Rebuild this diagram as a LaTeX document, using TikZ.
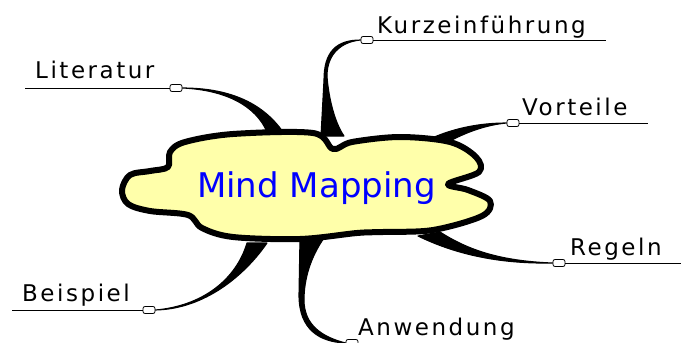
\documentclass[tikz,border=0pt]{standalone}
\usepackage{fontspec}
\usepackage{tikz}
\newfontfamily\topicfont[LetterSpace=11]{DejaVu Sans}
\newfontfamily\titlefont{DejaVu Sans}
\definecolor{cloudfill}{RGB}{255,255,170}
\tikzset{
  cloudline/.style={line width=6pt,fill=cloudfill,line join=round},
  branch/.style={fill=black,draw=black,line width=1.1pt,line join=round},
  knob/.style={draw,fill=white,rounded corners=2pt,minimum width=12pt,minimum height=7pt,inner sep=0pt,line width=0.8pt},
  stem/.style={line width=0.8pt},
  topic/.style={font=\topicfont\fontsize{23}{25}\selectfont,inner sep=0pt,anchor=base west},
}

\begin{document}
\begin{tikzpicture}[x=1pt,y=-1pt]
        \useasboundingbox (0,0) rectangle (681,343);
        % knobs at the ends of the branches
        \node[knob] (lit) at (176,88) {};
        \node[knob] (kurz) at (367,40) {};
        \node[knob] (vort) at (513,123) {};
        \node[knob] (regl) at (559,263) {};
        \node[knob] (anw) at (352,343) {};
        \node[knob] (beisp) at (149,310) {};
        \coordinate (lit-end) at (25,88);
        \coordinate (kurz-end) at (606,40);
        \coordinate (vort-end) at (648,123);
        \coordinate (regl-end) at (681,263);
        \coordinate (anw-end) at (681,343);
        \coordinate (beisp-end) at (12,310);
        % branches
        \draw[branch] (lit.east) .. controls (228,88) and (262,102) .. (283,132)
          -- (267,132) .. controls (256,106) and (226,90) .. (lit.east) -- cycle;
        \draw[branch] (kurz.west) .. controls (336,40) and (324,52) .. (324,80) -- (321,136)
          -- (344,136) .. controls (333,120) and (328,92) .. (327,76)
          .. controls (327,55) and (340,42) .. (kurz.west) -- cycle;
        \draw[branch] (vort.west) .. controls (480,123) and (455,128) .. (432,138)
          -- (450,141) .. controls (465,133) and (485,125) .. (vort.west) -- cycle;
        \draw[branch] (440,232) .. controls (468,250) and (500,261) .. (regl.west)
          .. controls (498,264) and (455,254) .. (418,236) -- cycle;
        \draw[branch] (300,238) -- (299,295) .. controls (299,330) and (320,342) .. (anw.west)
          .. controls (322,337) and (304,325) .. (304,300)
          .. controls (304,280) and (310,258) .. (324,238) -- cycle;
        \draw[branch] (beisp.east) .. controls (202,306) and (236,280) .. (247,243)
          -- (267,243) .. controls (245,275) and (205,309) .. (beisp.east) -- cycle;
        % the cloud
        \draw[cloudline] plot[smooth cycle,tension=0.55] coordinates {
          (122,190) (130,175) (150,171) (168,167) (170,152) (185,142) (233,134)
          (313,133) (333,149) (352,142) (400,137) (450,142) (476,157) (479,172)
          (448,184) (468,190) (490,201) (482,216) (433,230) (383,232) (357,233)
          (300,239) (233,237) (202,228) (188,215) (150,211) (128,204)};
        \node[font=\titlefont\fontsize{34}{36}\selectfont,text=blue,inner sep=0pt,anchor=base west] (mm) at (197,197) {Mind Mapping};
        % lines under the topics
        \draw[stem] (lit.west) -- (lit-end);
        \draw[stem] (kurz.east) -- (kurz-end);
        \draw[stem] (vort.east) -- (vort-end);
        \draw[stem] (regl.east) -- (regl-end);
        \draw[stem] (anw.east) -- (anw-end);
        \draw[stem] (beisp.west) -- (beisp-end);
        \node[topic] (lit-text) at (35,78) {Literatur};
        \node[topic] (kurz-text) at (377,33) {Kurzeinführung};
        \node[topic] (vort-text) at (522,115) {Vorteile};
        \node[topic] (regl-text) at (570,255) {Regeln};
        \node[topic] (anw-text) at (358,335) {Anwendung};
        \node[topic] (beisp-text) at (22,301) {Beispiel};
      \end{tikzpicture}
\end{document}
